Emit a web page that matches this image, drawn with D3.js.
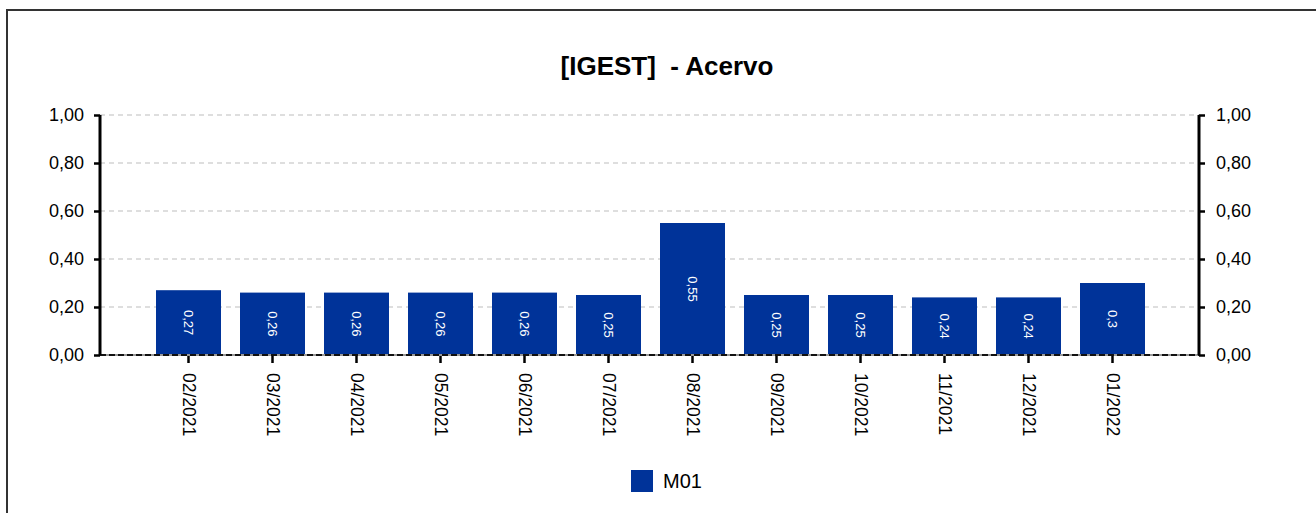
<!DOCTYPE html>
<html>
<head>
<meta charset="utf-8">
<script src="https://cdn.jsdelivr.net/npm/d3@7"></script>
<style>
  html, body { margin: 0; padding: 0; background: #fff; }
  svg { display: block; font-family: "Liberation Sans", Arial, sans-serif; }
</style>
</head>
<body>
<svg id="chart" width="1316" height="513"></svg>
<script>
// Monthly "Acervo" indicator for series M01
const months = ["02/2021", "03/2021", "04/2021", "05/2021", "06/2021", "07/2021",
                "08/2021", "09/2021", "10/2021", "11/2021", "12/2021", "01/2022"];
const m01 = [0.27, 0.26, 0.26, 0.26, 0.26, 0.25, 0.55, 0.25, 0.25, 0.24, 0.24, 0.3];
const yTicks = [0, 0.2, 0.4, 0.6, 0.8, 1.0];
const seriesName = "M01";
const chartTitle = "[IGEST]  - Acervo";

const svg = d3.select("#chart");
const W = 1316, H = 513;
const plot = { left: 100, right: 1199, top: 115, bottom: 355 };
const barColor = "#003399";
const fmtTick = v => d3.format(".2f")(v).replace(".", ",");
const fmtLabel = v => String(v).replace(".", ",");

// outer frame (top and left edges)
svg.append("path")
  .attr("d", `M7,${H} L7,10 L${W},10`)
  .attr("fill", "none").attr("stroke", "#333").attr("stroke-width", 2);

// title
svg.append("text")
  .attr("x", 667).attr("y", 75)
  .attr("text-anchor", "middle")
  .attr("font-size", 26).attr("font-weight", "bold")
  .style("white-space", "pre")
  .text(chartTitle);

const x = d3.scaleBand().domain(months)
  .range([146.5, 1154.5]).paddingInner(19 / 84).paddingOuter(19 / 168);
const y = d3.scaleLinear().domain([0, 1]).range([plot.bottom, plot.top]);

// horizontal dashed grid
svg.append("g").selectAll("line").data(yTicks.filter(d => d > 0)).join("line")
  .attr("x1", plot.left).attr("x2", plot.right)
  .attr("y1", d => y(d)).attr("y2", d => y(d))
  .attr("stroke", "#bdbdbd").attr("stroke-width", 1).attr("stroke-dasharray", "5,4");

// bars
svg.append("g").selectAll("rect").data(m01).join("rect")
  .attr("x", (d, i) => x(months[i]))
  .attr("y", d => y(d))
  .attr("width", x.bandwidth())
  .attr("height", d => y(0) - y(d))
  .attr("fill", barColor);

// value labels inside bars, rotated
svg.append("g").selectAll("text").data(m01).join("text")
  .attr("transform", (d, i) => `translate(${x(months[i]) + x.bandwidth() / 2},${(y(d) + y(0)) / 2}) rotate(90)`)
  .attr("text-anchor", "middle").attr("dominant-baseline", "central")
  .attr("font-size", 13).attr("fill", "#fff")
  .text(d => fmtLabel(d));

// baseline at zero
svg.append("line")
  .attr("x1", plot.left).attr("x2", plot.right)
  .attr("y1", y(0)).attr("y2", y(0))
  .attr("stroke", "#999").attr("stroke-width", 2);
svg.append("line")
  .attr("x1", plot.left).attr("x2", plot.right)
  .attr("y1", y(0)).attr("y2", y(0))
  .attr("stroke", "#111").attr("stroke-width", 2).attr("stroke-dasharray", "6,3");

// left and right value axes
const leftAxis = d3.axisLeft(y).tickValues(yTicks).tickFormat(fmtTick).tickSize(6).tickPadding(10);
const rightAxis = d3.axisRight(y).tickValues(yTicks).tickFormat(fmtTick).tickSize(6).tickPadding(11);
[[leftAxis, plot.left], [rightAxis, plot.right]].forEach(([ax, px]) => {
  const g = svg.append("g").attr("transform", `translate(${px},0)`).call(ax);
  g.select(".domain").attr("stroke", "#000").attr("stroke-width", 3)
    .attr("d", `M0,${plot.top}V${plot.bottom}`);
  g.selectAll(".tick line").attr("stroke", "#000").attr("stroke-width", 2.5);
  g.selectAll(".tick text").attr("font-size", 18).attr("fill", "#000")
    .attr("font-family", "Liberation Sans, Arial, sans-serif");
});

// category axis with rotated month labels
const xg = svg.append("g").attr("transform", `translate(0,${plot.bottom})`)
  .call(d3.axisBottom(x).tickSize(8).tickPadding(0));
xg.select(".domain").remove();
xg.selectAll(".tick line").attr("stroke", "#000").attr("stroke-width", 2.5).attr("y1", 1);
xg.selectAll(".tick text")
  .attr("font-size", 17.5).attr("fill", "#000")
  .attr("font-family", "Liberation Sans, Arial, sans-serif")
  .attr("text-anchor", "start").attr("dominant-baseline", "central")
  .attr("dy", null)
  .attr("transform", "translate(0,18) rotate(90)")
  .attr("y", 0).attr("x", 0);

// legend
const lg = svg.append("g").attr("transform", "translate(631,470)");
lg.append("rect").attr("width", 22).attr("height", 22).attr("fill", barColor);
lg.append("text").attr("x", 32).attr("y", 11).attr("dominant-baseline", "central")
  .attr("font-size", 20).text(seriesName);
</script>
</body>
</html>
